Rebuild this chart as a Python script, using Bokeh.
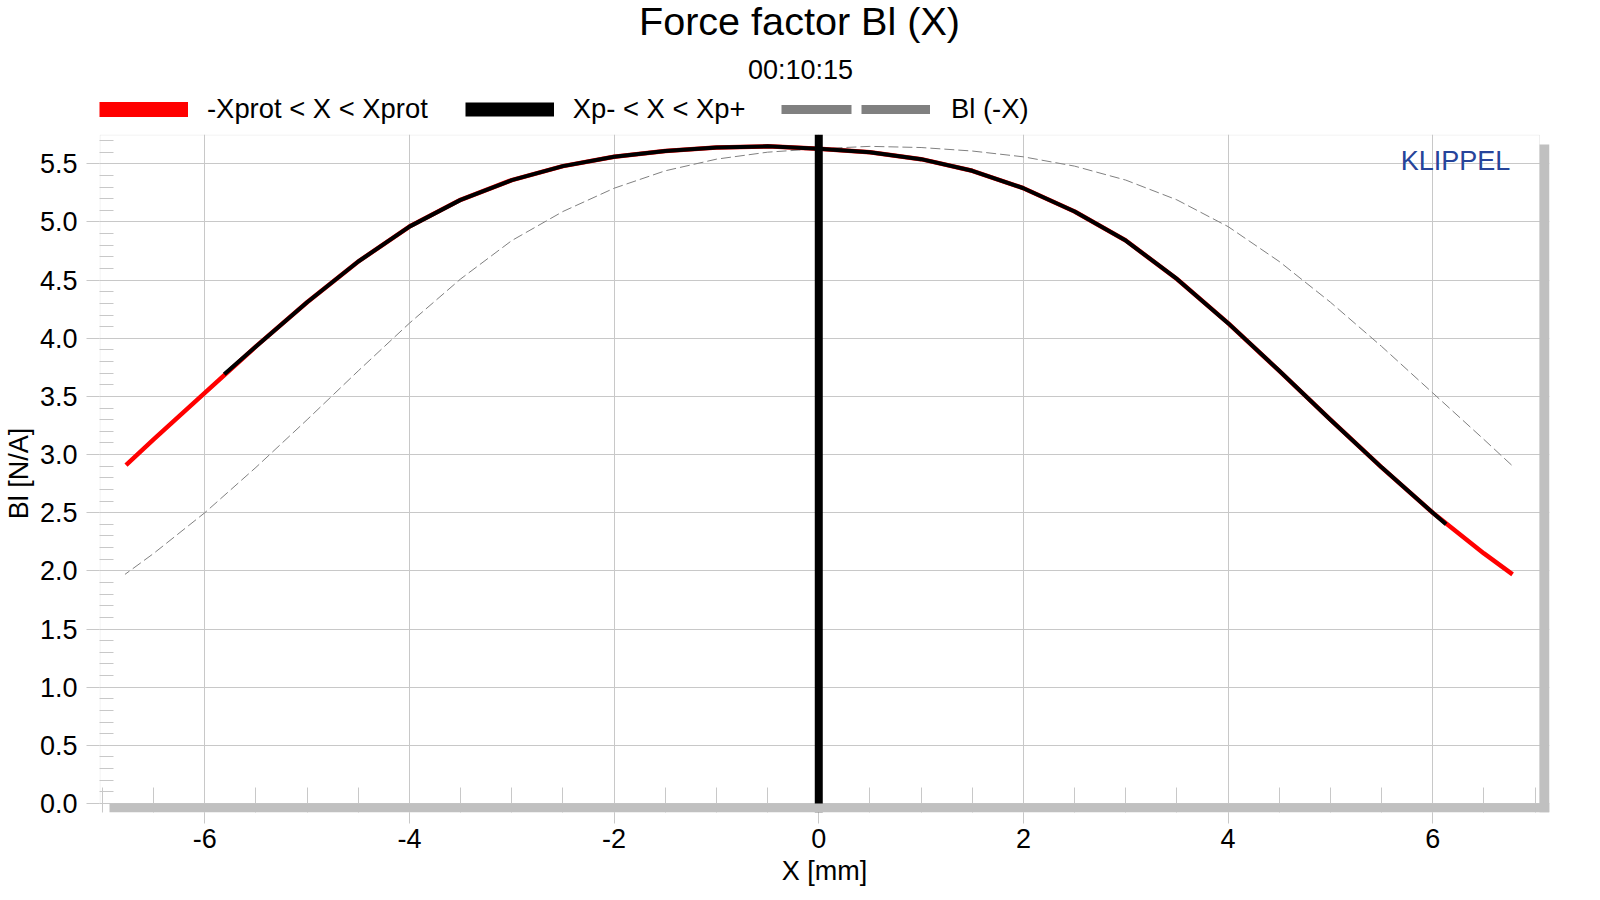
from bokeh.plotting import figure
from bokeh.layouts import column
from bokeh.models import (Range1d, SingleIntervalTicker, Span, BoxAnnotation, Label,
                          Legend, LegendItem, PrintfTickFormatter)
from bokeh.embed import file_html
from bokeh.resources import INLINE

NAN = float("nan")

# ---------------- data ----------------
# Bl(X) inside -Xprot < X < Xprot
X_PROT = [-6.77, -6.5, -6.0, -5.5, -5.0, -4.5, -4.0, -3.5, -3.0, -2.5, -2.0, -1.5,
          -1.0, -0.5, 0.0, 0.5, 1.0, 1.5, 2.0, 2.5, 3.0, 3.5, 4.0, 4.5, 5.0, 5.5,
          6.0, 6.5, 6.78]
BL_PROT = [2.91, 3.13, 3.53, 3.93, 4.31, 4.66, 4.96, 5.19, 5.36, 5.48, 5.56, 5.61,
           5.64, 5.65, 5.63, 5.60, 5.54, 5.44, 5.29, 5.09, 4.84, 4.51, 4.13, 3.72,
           3.30, 2.89, 2.50, 2.15, 1.97]
# Bl(X) inside Xp- < X < Xp+
X_P = [-5.81, -5.5, -5.0, -4.5, -4.0, -3.5, -3.0, -2.5, -2.0, -1.5, -1.0, -0.5,
       0.0, 0.5, 1.0, 1.5, 2.0, 2.5, 3.0, 3.5, 4.0, 4.5, 5.0, 5.5, 6.0, 6.13]
BL_P = [3.69, 3.93, 4.31, 4.66, 4.96, 5.19, 5.36, 5.48, 5.56, 5.61, 5.64, 5.65,
        5.63, 5.60, 5.54, 5.44, 5.29, 5.09, 4.84, 4.51, 4.13, 3.72, 3.30, 2.89,
        2.50, 2.40]
# Bl(-X): the mirrored curve
X_MIRROR = [-x for x in X_PROT]
BL_MIRROR = list(BL_PROT)

LABELS = ["-Xprot < X < Xprot", "Xp- < X < Xp+", "Bl (-X)"]
TITLE = "Force factor Bl (X)"
SUBTITLE = "00:10:15"
X_TICK_STEP = 2
Y_TICK_STEP = 0.5

FONT = "Liberation Sans"
GRID = "#c8c8c8"
SHADOW = "#c0c0c0"

# ---------------- header: title, time stamp, legend ----------------
head = figure(width=1582, height=130, output_backend="svg", toolbar_location=None,
              title=None, x_axis_type=None, y_axis_type=None,
              x_range=Range1d(0, 1), y_range=Range1d(0, 1), min_border=0)
head.outline_line_color = None
head.background_fill_color = "white"
head.border_fill_color = "white"

head.add_layout(Label(x=700, y=110, x_units="screen", y_units="screen", text=TITLE,
                      text_align="center", text_baseline="alphabetic",
                      text_font=FONT, text_font_size="39.6px", text_color="black"))
head.add_layout(Label(x=701, y=61, x_units="screen", y_units="screen", text=SUBTITLE,
                      text_align="center", text_baseline="alphabetic",
                      text_font=FONT, text_font_size="27px", text_color="black"))

# legend-only renderers (nothing visible in the header area)
leg_red = head.line(x=[NAN], y=[NAN], line_color="red", line_width=15)
leg_blk = head.line(x=[NAN], y=[NAN], line_color="black", line_width=14)
leg_gry = head.line(x=[NAN], y=[NAN], line_color="#808080", line_width=9,
                    line_dash="70 10")

common = dict(orientation="horizontal", padding=0, margin=0, border_line_color=None,
              background_fill_alpha=0, label_text_font=FONT,
              label_text_font_size="27.4px", label_text_color="black",
              glyph_height=40, label_height=40)
legA = Legend(items=[LegendItem(label=LABELS[0], renderers=[leg_red]),
                     LegendItem(label=LABELS[1], renderers=[leg_blk])],
              location=(0, 1), glyph_width=89, label_standoff=19, spacing=37,
              **common)
legB = Legend(items=[LegendItem(label=LABELS[2], renderers=[leg_gry])],
              location=(682, 1), glyph_width=149, label_standoff=21, **common)
head.add_layout(legA, "center")
head.add_layout(legB, "center")

# ---------------- main chart ----------------
p = figure(frame_width=1450, frame_height=678, output_backend="svg",
           toolbar_location=None, title=None,
           x_range=Range1d(-7.029, 7.141), y_range=Range1d(-0.0774, 5.752),
           min_border_left=96, min_border_right=36, min_border_top=4,
           min_border_bottom=0)
p.background_fill_color = "white"
p.border_fill_color = "white"
p.outline_line_color = None

p.xaxis.ticker = SingleIntervalTicker(interval=X_TICK_STEP, num_minor_ticks=4)
p.yaxis.ticker = SingleIntervalTicker(interval=Y_TICK_STEP, num_minor_ticks=5)
p.xaxis.formatter = PrintfTickFormatter(format="%d")
p.yaxis.formatter = PrintfTickFormatter(format="%.1f")
p.xaxis.axis_label = "X [mm]"
p.yaxis.axis_label = "Bl [N/A]"
for ax in (p.xaxis[0], p.yaxis[0]):
    ax.axis_line_color = None
    ax.major_tick_line_color = GRID
    ax.minor_tick_line_color = GRID
    ax.major_label_text_font = FONT
    ax.major_label_text_font_size = "27px"
    ax.major_label_text_color = "black"
    ax.axis_label_text_font = FONT
    ax.axis_label_text_font_size = "27px"
    ax.axis_label_text_font_style = "normal"
    ax.axis_label_text_color = "black"
p.xaxis.major_tick_in = 0
p.xaxis.major_tick_out = 11
p.xaxis.minor_tick_in = 25
p.xaxis.minor_tick_out = 0
p.xaxis.major_label_standoff = 5
p.xaxis.axis_label_standoff = 5
p.yaxis.major_tick_in = 0
p.yaxis.major_tick_out = 13
p.yaxis.minor_tick_in = 14
p.yaxis.minor_tick_out = 0
p.yaxis.major_label_standoff = 9
p.yaxis.axis_label_standoff = 3

p.xgrid.grid_line_color = GRID
p.ygrid.grid_line_color = GRID

# plot-area border
p.add_layout(BoxAnnotation(left=0.5, right=1440, bottom=9, top=677.5,
                           left_units="screen", right_units="screen",
                           bottom_units="screen", top_units="screen",
                           fill_alpha=0, line_color=GRID, line_width=1,
                           level="underlay"))

# curves
p.line(X_MIRROR, BL_MIRROR, line_color="#808080", line_width=1, line_dash="10 4")
p.line(X_PROT, BL_PROT, line_color="red", line_width=4.5, line_join="round")
p.line(X_P, BL_P, line_color="black", line_width=4, line_join="round")

p.add_layout(Span(location=0, dimension="height", line_color="black", line_width=8))

# drop shadow of the plot area
p.add_layout(BoxAnnotation(left=10, right=1450, bottom=0, top=9,
                           left_units="screen", right_units="screen",
                           bottom_units="screen", top_units="screen",
                           fill_color=SHADOW, fill_alpha=1, line_color=None))
p.add_layout(BoxAnnotation(left=1440, right=1450, bottom=0, top=668,
                           left_units="screen", right_units="screen",
                           bottom_units="screen", top_units="screen",
                           fill_color=SHADOW, fill_alpha=1, line_color=None))

p.add_layout(Label(x=1410.7, y=652, x_units="screen", y_units="screen", text="KLIPPEL",
                   text_align="right", text_baseline="alphabetic", text_font=FONT,
                   text_font_size="27px", text_color="#26449a"))

layout = column(head, p, spacing=0)
open("out.html", "w").write(file_html(layout, INLINE))
